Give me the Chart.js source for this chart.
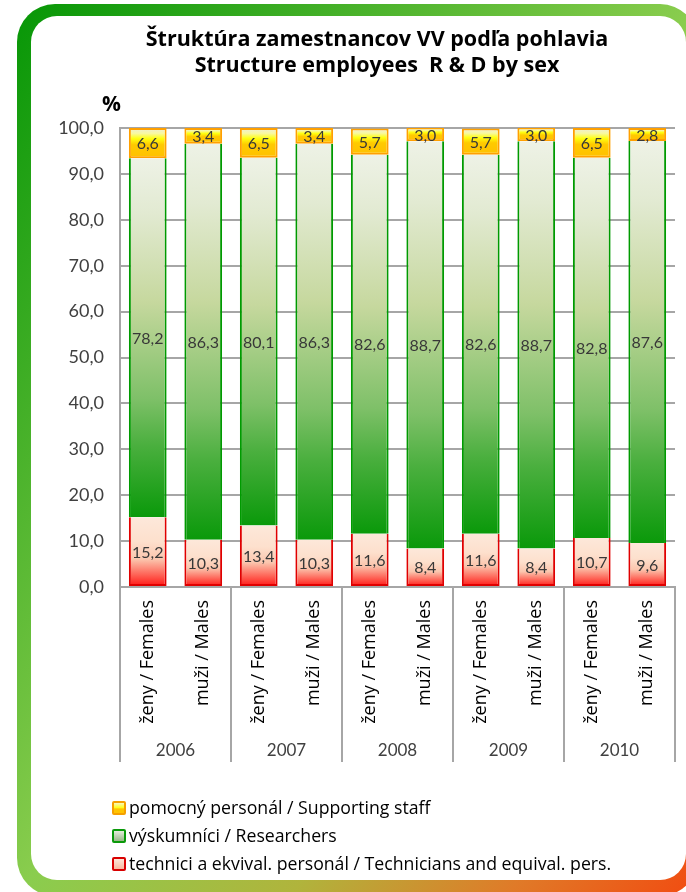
<!DOCTYPE html>
<html>
<head>
<meta charset="utf-8">
<script src="https://cdn.jsdelivr.net/npm/chart.js@4.4.1/dist/chart.umd.min.js"></script>
<style>
  html, body { margin: 0; padding: 0; background: #fff; overflow: hidden; }
  #wrap { position: relative; width: 686px; height: 892px; overflow: hidden; }
  #frame {
    position: absolute; left: 17px; top: 4px; width: 681px; height: 892px;
    border-radius: 38px;
    background: linear-gradient(to bottom right, #069606 0%, #8acd4e 50%, #b0b43c 70%, #e07a28 86%, #f24a10 100%);
  }
  #inner {
    position: absolute; left: 31px; top: 16px; width: 655px; height: 864px;
    border-radius: 26px; background: #fff;
  }
  #chart { position: absolute; left: 0; top: 0; }
  #pct {
    position: absolute; left: 102px; top: 89px;
    font: bold 21px "Open Sans", Arial, sans-serif; color: #000;
  }
  #legend {
    position: absolute; left: 112px; top: 793px;
    font: 17.7px "Open Sans", Arial, sans-serif; color: #000;
  }
  #legend .item { height: 28px; line-height: 28px; white-space: nowrap; }
  #legend .box {
    display: inline-block; width: 10px; height: 10px; border: 2px solid;
    border-radius: 2px; vertical-align: -1px; margin-right: 3px;
  }
</style>
</head>
<body>
<div id="wrap">
  <div id="frame"></div>
  <div id="inner"></div>
  <canvas id="chart" width="714" height="892"></canvas>
  <div id="pct">%</div>
  <div id="legend"></div>
</div>
<script>
(function () {
    "use strict";

    // data
    var categories = ['ženy / Females', 'muži / Males', 'ženy / Females', 'muži / Males',
        'ženy / Females', 'muži / Males', 'ženy / Females', 'muži / Males',
        'ženy / Females', 'muži / Males'];
    var years = ['2006', '2007', '2008', '2009', '2010'];
    var technicians = [15.2, 10.3, 13.4, 10.3, 11.6, 8.4, 11.6, 8.4, 10.7, 9.6];
    var researchers = [78.2, 86.3, 80.1, 86.3, 82.6, 88.7, 82.6, 88.7, 82.8, 87.6];
    var supporting = [6.6, 3.4, 6.5, 3.4, 5.7, 3.0, 5.7, 3.0, 6.5, 2.8];
    var seriesNames = ['technici a ekvival. personál / Technicians and equival. pers.',
        'výskumníci / Researchers',
        'pomocný personál / Supporting staff'];

    function fmt(v) {
        return Number(v).toFixed(1).replace('.', ',');
    }

    // gradient inside one stacked segment, bottom -> top
    function segmentFill(stops) {
        return function (c) {
            var chart = c.chart;
            if (c.type !== 'data' || !chart.chartArea) return stops[stops.length - 1][1];
            var base = 0;
            for (var k = 0; k < c.datasetIndex; k++) base += chart.data.datasets[k].data[c.dataIndex];
            var top = base + chart.data.datasets[c.datasetIndex].data[c.dataIndex];
            var y = chart.scales.y;
            var g = chart.ctx.createLinearGradient(0, y.getPixelForValue(base), 0, y.getPixelForValue(top));
            stops.forEach(function (s) { g.addColorStop(s[0], s[1]); });
            return g;
        };
    }

    var redStops = [[0, '#ff1010'], [0.12, '#ff4a40'], [0.4, '#fbc6ae'], [0.65, '#fde0cd'], [1, '#fde8da']];
    var greenStops = [[0, '#0a990a'], [0.2, '#4aaf3e'], [0.33, '#7ec068'], [0.6, '#c6d89e'], [0.85, '#e2ead2'], [1, '#eef2e6']];
    var yellowStops = [[0, '#ffc000'], [0.45, '#ffca00'], [0.65, '#ffff10'], [0.82, '#f8f8a0'], [1, '#eeeed8']];

    var legendSwatch = [
        {border: '#d80000', fill: 'linear-gradient(#fde6d8, #f8b8a0)'},
        {border: '#0a990a', fill: 'linear-gradient(#e4ecdc, #98b888)'},
        {border: '#f5a000', fill: 'linear-gradient(#f8f8c0, #ffff20 45%, #ffc400 60%)'}
    ];

    // value labels centred in every segment
    var valueLabels = {
        id: 'valueLabels',
        afterDatasetsDraw: function (chart) {
            var ctx = chart.ctx;
            ctx.save();
            ctx.font = '16px Lato';
            ctx.fillStyle = '#383838';
            ctx.textAlign = 'center';
            ctx.textBaseline = 'middle';
            chart.data.datasets.forEach(function (ds, d) {
                chart.getDatasetMeta(d).data.forEach(function (bar, i) {
                    var p = bar.getProps(['x', 'y', 'base'], true);
                    ctx.fillText(fmt(ds.data[i]), p.x, (p.y + p.base) / 2 + 1);
                });
            });
            ctx.restore();
        }
    };

    var gridGray = '#a6a6a6';

    var chart = new Chart(document.getElementById('chart').getContext('2d'), {
        type: 'bar',
        data: {
            labels: categories,
            datasets: [{
                label: seriesNames[0],
                data: technicians,
                backgroundColor: segmentFill(redStops),
                borderColor: '#e00000',
                borderWidth: {left: 2, right: 2, bottom: 2, top: 0},
                borderSkipped: false
            }, {
                label: seriesNames[1],
                data: researchers,
                backgroundColor: segmentFill(greenStops),
                borderColor: '#009a00',
                borderWidth: {left: 2, right: 2, bottom: 0, top: 0},
                borderSkipped: false
            }, {
                label: seriesNames[2],
                data: supporting,
                backgroundColor: segmentFill(yellowStops),
                borderColor: '#ffa000',
                borderWidth: 2,
                borderSkipped: false
            }]
        },
        options: {
            responsive: false,
            animation: false,
            barPercentage: 0.68,
            categoryPercentage: 1,
            layout: {padding: {left: 40, right: 0, top: 0, bottom: 117}},
            plugins: {
                legend: {display: false},
                tooltip: {enabled: false},
                title: {
                    display: true,
                    text: ['Štruktúra zamestnancov VV podľa pohlavia', 'Structure employees  R & D by sex'],
                    color: '#000',
                    font: {family: 'Open Sans', size: 21.5, weight: 'bold', lineHeight: 1.21},
                    padding: {top: 27, bottom: 49}
                }
            },
            scales: {
                x: {
                    stacked: true,
                    offset: true,
                    grid: {
                        offset: true,
                        drawOnChartArea: false,
                        tickLength: 175,
                        lineWidth: 2,
                        color: function (c) {
                            return (c.index === undefined || c.index % 2 === 0) ? gridGray : 'rgba(0,0,0,0)';
                        }
                    },
                    border: {color: gridGray, width: 2},
                    ticks: {
                        minRotation: 90, maxRotation: 90, autoSkip: false, padding: -162,
                        color: '#000', font: {family: 'Open Sans', size: 18}
                    },
                    afterFit: function (s) { s.height = 138; }
                },
                x2: {
                    type: 'category',
                    labels: years,
                    position: 'bottom',
                    offset: true,
                    grid: {display: false, drawTicks: false},
                    border: {display: false},
                    ticks: {padding: 15, color: '#404040', font: {family: 'Lato', size: 17}},
                    afterFit: function (s) { s.height = 50; }
                },
                y: {
                    stacked: true,
                    min: 0,
                    max: 100,
                    ticks: {
                        stepSize: 10, padding: 16, color: '#404040',
                        font: {family: 'Lato', size: 18},
                        callback: function (v) { return fmt(v); }
                    },
                    grid: {color: gridGray, lineWidth: 2, drawTicks: false},
                    border: {color: gridGray, width: 2},
                    afterFit: function (s) { s.width = 80; }
                },
                // empty right-hand strip so the title centres like the original
                yR: {
                    position: 'right',
                    grid: {display: false, drawTicks: false},
                    border: {display: false},
                    ticks: {display: false},
                    afterFit: function (s) { s.width = 39; }
                }
            }
        },
        plugins: [valueLabels]
    });

    // legend, top item = last series
    var legend = document.getElementById('legend');
    for (var d = chart.data.datasets.length - 1; d >= 0; d--) {
        var row = document.createElement('div');
        row.className = 'item';
        var box = document.createElement('span');
        box.className = 'box';
        box.style.borderColor = legendSwatch[d].border;
        box.style.background = legendSwatch[d].fill;
        row.appendChild(box);
        row.appendChild(document.createTextNode(chart.data.datasets[d].label));
        legend.appendChild(row);
    }
})();
</script>
</body>
</html>
